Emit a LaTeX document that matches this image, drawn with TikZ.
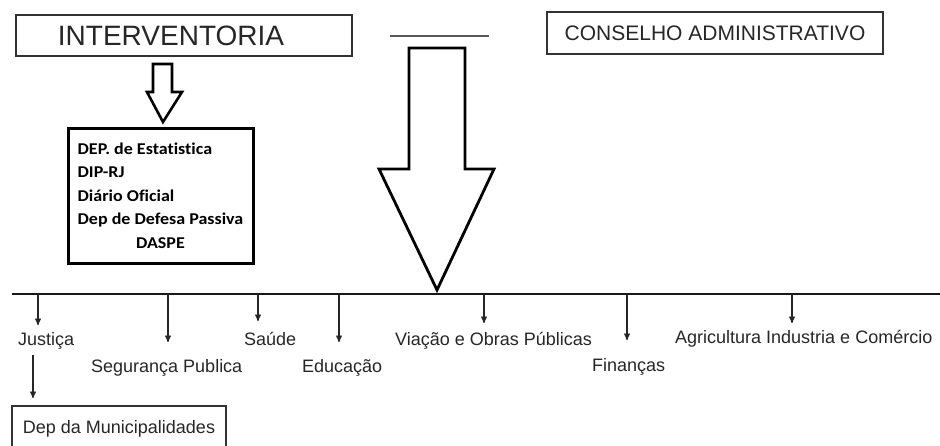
\documentclass[tikz,border=0pt]{standalone}
\usepackage{fontspec}
\setmainfont{Liberation Sans}
\newfontfamily\calib[FakeStretch=1.09, Ligatures=CommonOff]{Carlito}
\usepackage{xcolor}
\usetikzlibrary{arrows,positioning}

\begin{document}
\begin{tikzpicture}[->, >=stealth', x=1pt, y=-1pt, font=\fontsize{18}{20}\selectfont, text=black!85]
	\tikzstyle{caixa}=[draw=black!80, line width=1.4pt, inner sep=0pt, text=black!85]
	\tikzstyle{setor}=[anchor=base west, inner sep=0pt]
	\tikzstyle{seta}=[->, line width=1.3pt, black!85]
	\tikzstyle{oca}=[-, draw=black, line width=2.6pt, fill=white, line join=miter]

	\useasboundingbox (0,0) rectangle (940,446);

	% topo
	\node[caixa, minimum width=336pt, minimum height=41pt, font=\fontsize{28}{30}\selectfont] (interv) at (184,35.5) {\hspace{-26pt}INTERVENTORIA};
	\node[caixa, minimum width=336pt, minimum height=42pt, font=\fontsize{21}{23}\selectfont] (conselho) at (715,33) {CONSELHO ADMINISTRATIVO};
	\draw[-, black!65, line width=1.3pt] (390,36) -- (489,36);

	% orgaos ligados a interventoria
	\node[draw=black, line width=3pt, minimum width=185pt, minimum height=135pt, inner sep=0pt, text=black,
		font=\calib\bfseries\fontsize{16.5}{23.5}\selectfont] (orgaos) at (160.5,196.5) {%
		\begin{tabular}{@{}l@{}}
		DEP. de Estatistica\\
		DIP-RJ\\
		Diário Oficial\\
		Dep de Defesa Passiva\\
		\multicolumn{1}{@{}c@{}}{DASPE}
		\end{tabular}};

	% setas ocas
	\draw[oca] (153,64) -- (172,64) -- (172,92) -- (182,92) -- (163,122) -- (147,92) -- (153,92) -- cycle;
	\draw[oca, line width=2.8pt] (409,48) -- (465,48) -- (465,169) -- (494,169) -- (437,290) -- (379,169) -- (409,169) -- cycle;

	% linha das secretarias
	\draw[-, line width=2pt, black!90] (12,294) -- (940,294);

	\node[setor] (jus) at (18,345) {Justiça};
	\node[setor] (seg) at (91,373) {Segurança Publica};
	\node[setor] (sau) at (244,345) {Saúde};
	\node[setor] (edu) at (302,373) {Educação};
	\node[setor] (via) at (395,345) {Viação e Obras Públicas};
	\node[setor] (fin) at (592,371) {Finanças};
	\node[setor] (agr) at (675,344) {Agricultura Industria e Comércio};

	\foreach \n/\x/\y in {jus/38/325, seg/168/342, sau/258/321, edu/339/342, via/484/323, fin/627/340, agr/792/323} {
		\coordinate (b\n) at (\x,294);
		\coordinate (t\n) at (\x,\y);
		\draw[seta] (b\n) -- (t\n);
	}

	\node[caixa, line width=1.2pt, minimum width=214pt, minimum height=45pt] (depmun) at (119,428.5) {Dep da Municipalidades};
	\coordinate (sjus) at (33,355);
	\coordinate (tdep) at (33,398);
	\draw[seta] (sjus) -- (tdep);

\end{tikzpicture}
\end{document}
